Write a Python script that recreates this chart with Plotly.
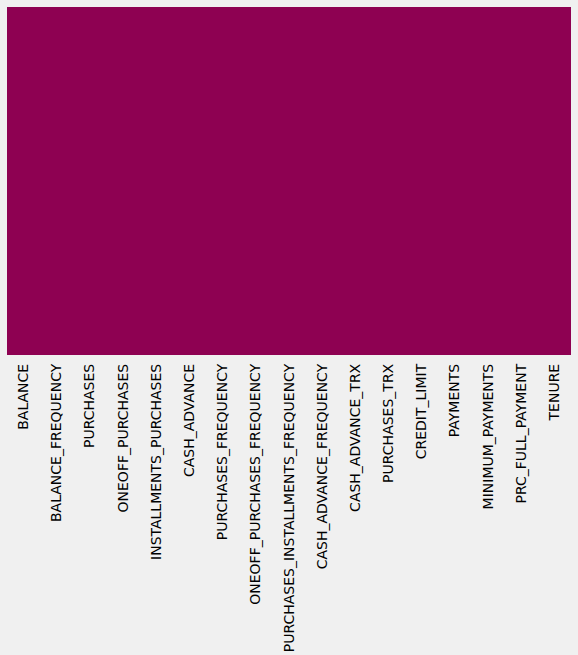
import plotly.graph_objects as go

columns = ["BALANCE", "BALANCE_FREQUENCY", "PURCHASES", "ONEOFF_PURCHASES",
           "INSTALLMENTS_PURCHASES", "CASH_ADVANCE", "PURCHASES_FREQUENCY",
           "ONEOFF_PURCHASES_FREQUENCY", "PURCHASES_INSTALLMENTS_FREQUENCY",
           "CASH_ADVANCE_FREQUENCY", "CASH_ADVANCE_TRX", "PURCHASES_TRX",
           "CREDIT_LIMIT", "PAYMENTS", "MINIMUM_PAYMENTS", "PRC_FULL_PAYMENT", "TENURE"]
# isnull() result: no missing values in any column
is_null = [0, 0, 0, 0, 0, 0, 0, 0, 0, 0, 0, 0, 0, 0, 0, 0, 0]

fig = go.Figure(go.Heatmap(
    z=[is_null],
    x=columns,
    y=[0],
    colorscale=[[0, "#8e0152"], [1, "#8e0152"]],
    showscale=False,
    zmin=0, zmax=1,
    hoverinfo="skip",
))

fig.update_layout(
    width=578, height=655,
    margin=dict(l=7, r=7, t=7, b=300, autoexpand=False),
    paper_bgcolor="#f0f0f0",
    plot_bgcolor="#f0f0f0",
    font=dict(family="DejaVu Sans", size=14, color="#000000"),
    xaxis=dict(tickangle=-90, ticks="", showgrid=False, zeroline=False,
               tickfont=dict(size=14), ticklabelstandoff=5, automargin=False),
    yaxis=dict(visible=False, showgrid=False, zeroline=False, automargin=False),
)

fig.write_html("out.html", config={"displayModeBar": False})
